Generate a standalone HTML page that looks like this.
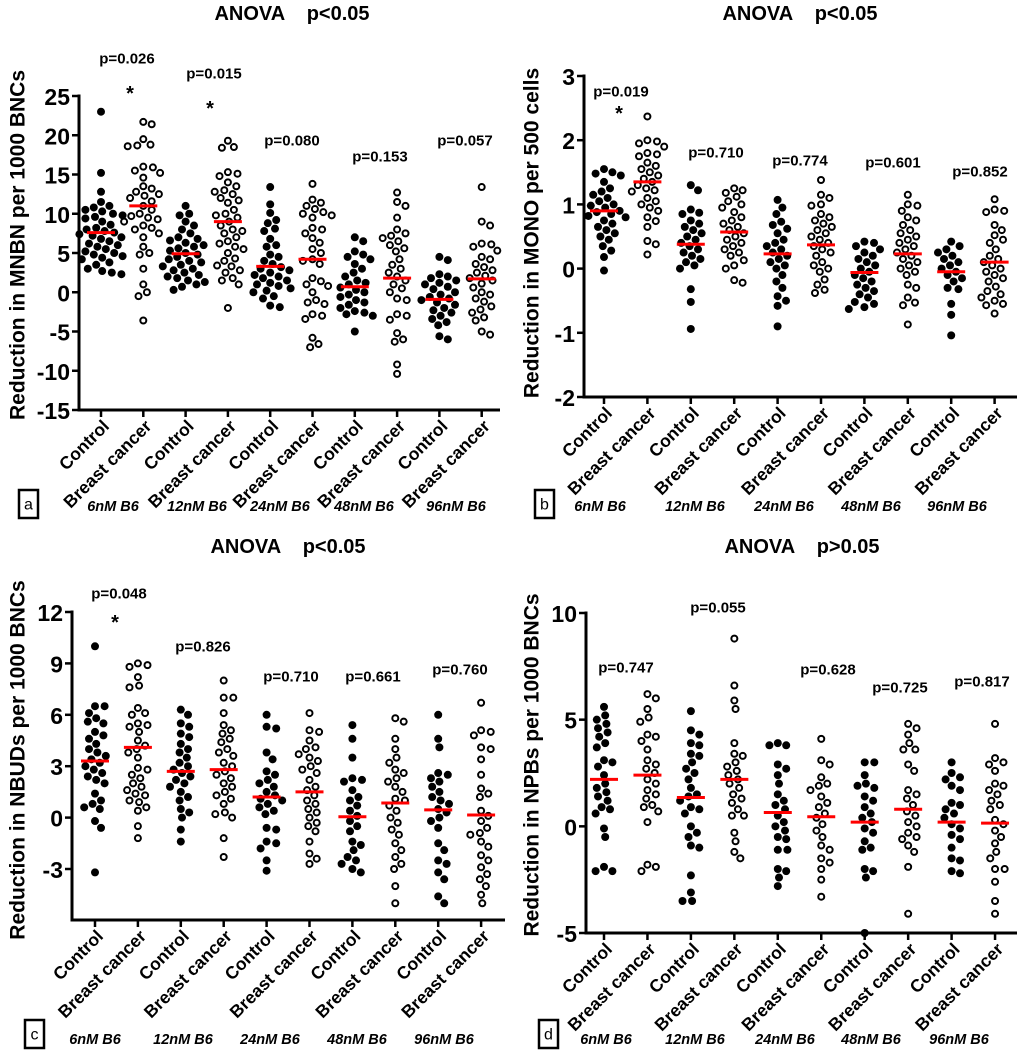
<!DOCTYPE html>
<html><head><meta charset="utf-8">
<style>
html,body{margin:0;padding:0;background:#fff;}
svg{display:block;font-family:"Liberation Sans",Arial,sans-serif;}
.pre{white-space:pre;}
</style></head>
<body>
<svg id="chart" width="1024" height="1064" viewBox="0 0 1024 1064"></svg>
<script>
// ---------- data ----------
const categories = ["Control","Breast cancer","Control","Breast cancer","Control","Breast cancer","Control","Breast cancer","Control","Breast cancer"];
const doseLabels = ["6nM B6","12nM B6","24nM B6","48nM B6","96nM B6"];

const mnbnValues = [
 [23,15.2,12.8,11.5,11,10.8,10.5,10.3,10,9.8,9.6,9.4,9,8.6,8.2,8,7.8,7.6,7.4,7.2,7,6.8,6.5,6.2,6,5.8,5.5,5.2,5,4.8,4.6,4.4,4.2,3.8,3.5,3,2.7,2.5,2.3],
 [21.7,21.4,19.5,18.8,18.7,18.6,16,15.9,15.5,15.2,14.6,13.5,13.2,12.8,12.5,12.3,12,11.6,11,10.5,10,9.7,9.5,9.3,9,8.5,8.2,8,7.5,7,5.8,5,4.8,3,1,0,-0.5,-3.6],
 [11,10,9.8,9,8.5,8,7.5,7,6.8,6.6,6.3,6,5.8,5.6,5.3,5,4.8,4.5,4.2,4,3.8,3.5,3.3,3,2.8,2.5,2.2,2,1.8,1.5,1.3,1,0.7,0.3],
 [19.3,18.5,18.4,15.3,15.1,14.8,14,13.5,13,12.8,12.5,12,11.7,11.4,10.5,10,9.8,9.5,9,8.5,8,7.8,7.5,7,6.5,6.2,5.8,5.5,5,4.3,4,3.4,3.3,2.8,2.5,1.8,1.5,1,-2],
 [13.4,11.2,10.1,9.2,8.8,8.1,7.8,6.8,6,5.8,4.8,4.5,4,3.6,3.2,3,2.8,2.5,2.2,2,1.8,1.5,1.2,1,0.8,0.5,0.2,0,-0.5,-0.8,-1.7,-1.9],
 [13.8,11.8,11.4,11,10.6,10.2,10,9.8,9.5,8.2,8,7.5,6.9,6.3,5.5,5,4.2,4,3.6,1.8,1.4,1,0.8,0,-1,-1.3,-1.5,-2.8,-3,-3.4,-5.8,-6.6,-7],
 [7,6.5,5.2,4.8,4.5,4.2,3.6,3,2.5,2,1.5,1.2,1,0.6,0.3,0,-0.3,-0.6,-1,-1.3,-1.6,-2,-2.4,-2.6,-2.8,-3,-5],
 [12.7,11.5,11,9.5,8,7.5,7.2,6.9,6.5,6,5.6,5.2,4.2,3.5,3,2.5,2,1.5,1,0.5,0,-0.8,-1,-2.8,-3,-3.5,-5.2,-6,-6.3,-9.2,-10.4],
 [4.5,4.1,2.3,2,1.8,1.5,1.2,1,0.7,0.4,0,-0.3,-0.6,-0.8,-1,-1.3,-1.6,-2,-2.3,-2.6,-3,-3.4,-3.8,-4.2,-5.6,-6],
 [13.4,9,8.5,6.2,6.1,5.8,5.3,4.5,4.2,3.6,3.2,2.8,2.5,2.1,1.8,1.5,1.1,0.6,0,-0.3,-0.8,-1.2,-1.8,-2.2,-2.6,-3.2,-3.6,-5,-5.4]
];
const mnbnMeans = [7.6,11,4.9,9,3.3,4.2,0.7,1.8,-0.9,1.7];
const mnbnTicks = [25,20,15,10,5,0,-5,-10,-15];
const mnbnP = ["p=0.026","p=0.015","p=0.080","p=0.153","p=0.057"];

const monoValues = [
 [1.55,1.5,1.48,1.45,1.35,1.25,1.2,1.15,1.1,1.05,1.0,0.98,0.95,0.9,0.88,0.85,0.82,0.8,0.75,0.7,0.65,0.6,0.55,0.5,0.45,0.35,0.28,0.18,-0.03],
 [2.37,2.0,1.98,1.95,1.9,1.8,1.78,1.75,1.65,1.6,1.55,1.5,1.45,1.4,1.35,1.3,1.25,1.22,1.2,1.1,1.05,1.0,0.95,0.9,0.8,0.74,0.65,0.43,0.38,0.22],
 [1.3,1.22,0.92,0.87,0.85,0.75,0.7,0.65,0.6,0.55,0.5,0.45,0.4,0.35,0.3,0.25,0.2,0.15,0.1,0.05,0,-0.32,-0.52,-0.94],
 [1.25,1.22,1.18,1.12,1.05,1.0,0.95,0.88,0.8,0.75,0.7,0.65,0.6,0.55,0.5,0.45,0.4,0.35,0.3,0.25,0.2,0.13,0.05,0,-0.18,-0.22],
 [1.07,0.95,0.85,0.73,0.68,0.62,0.55,0.45,0.4,0.35,0.3,0.25,0.2,0.15,0.1,0.05,0,-0.1,-0.2,-0.3,-0.43,-0.5,-0.58,-0.9],
 [1.38,1.15,1.1,1.0,0.98,0.85,0.8,0.75,0.7,0.65,0.6,0.55,0.5,0.45,0.4,0.35,0.3,0.25,0.2,0.1,0.05,0,-0.05,-0.17,-0.25,-0.33,-0.38],
 [0.42,0.4,0.35,0.3,0.25,0.2,0.15,0.1,0.05,0,-0.05,-0.1,-0.15,-0.2,-0.25,-0.3,-0.35,-0.4,-0.45,-0.52,-0.55,-0.6,-0.63],
 [1.15,1.0,0.98,0.9,0.8,0.75,0.68,0.6,0.55,0.5,0.45,0.4,0.35,0.3,0.25,0.2,0.15,0.1,0.05,0,-0.05,-0.1,-0.25,-0.3,-0.45,-0.53,-0.57,-0.87],
 [0.42,0.35,0.3,0.25,0.2,0.15,0.1,0.05,0,-0.05,-0.1,-0.15,-0.2,-0.3,-0.32,-0.55,-0.72,-1.04],
 [1.08,0.92,0.9,0.88,0.68,0.6,0.52,0.45,0.4,0.3,0.2,0.15,0.1,0.05,0,-0.05,-0.1,-0.15,-0.2,-0.28,-0.35,-0.4,-0.45,-0.5,-0.55,-0.57,-0.7]
];
const monoMeans = [0.9,1.35,0.38,0.57,0.23,0.37,-0.06,0.23,-0.05,0.1];
const monoTicks = [3,2,1,0,-1,-2];
const monoP = ["p=0.019","p=0.710","p=0.774","p=0.601","p=0.852"];

const nbudValues = [
 [10,6.5,6.5,6.1,5.8,5.6,5.5,5,4.8,4.6,4.3,4,3.8,3.6,3.4,3.2,3,2.8,2.6,2.4,2.2,2,1.4,1,0.8,0.6,0.5,-0.2,-0.6,-3.2],
 [9,8.9,8.8,8.2,7.7,7.6,6.4,6.1,6,5.5,5.4,5.3,5,4.5,4.2,4,3.8,3.5,2.9,2.8,2.5,2.3,2,1.8,1.6,1.4,1.3,1,0.9,0.6,0.4,-0.5,-1.2],
 [6.3,6,5.5,5.3,4.9,4.7,4.3,4,3.8,3.5,3.2,3,2.8,2.6,2.4,2.2,2,1.8,1.5,1.2,1,0.5,0.3,0,-0.7,-1.4],
 [8,7,7,6.1,5.4,5.1,4.9,4.6,4.4,4,3.8,3.6,3.2,3,2.7,2.5,2.3,2,1.8,1.5,1.3,1.1,0.8,0.3,0.2,0,-1.2,-2.3],
 [6,5.3,5.2,3.8,3.4,2.7,2.5,2.2,2,1.8,1.5,1.3,1.1,1,0.8,0.6,0.4,0.2,-0.6,-0.7,-1.4,-1.5,-1.8,-2.5,-3.1],
 [6.1,5.1,5,4.5,4.1,4,3.7,3.5,3.3,3,2.8,2.6,2.2,1.8,1.6,1.3,1,0.8,0.5,0.3,0,-0.3,-0.5,-0.8,-1.4,-2.1,-2.4,-2.7],
 [5.4,4.6,3.5,2.3,2.2,2.1,1.6,1.2,1,0.7,0.4,0.1,-0.2,-0.5,-0.8,-1.4,-1.6,-1.9,-2.3,-2.5,-2.7,-3,-3.2],
 [5.8,5.6,4.6,4,3.5,3.2,2.8,2.6,2.3,2.1,1.8,1.5,1.1,1,0.7,0.4,0,-0.3,-0.7,-1,-1.5,-1.9,-2.3,-2.7,-3,-4,-5],
 [6,4.6,4.1,2.6,2.5,2.3,2.1,1.8,1.5,1.2,1,0.8,0.5,0.3,0,-0.2,-0.6,-1.5,-1.9,-2.5,-2.7,-3.2,-3.6,-4.6,-5],
 [6.7,5.1,5,4.8,4.1,4,3.4,2.5,1.7,1.4,1.2,0.4,0.1,-0.2,-0.6,-0.9,-1,-1.4,-1.7,-2.2,-2.5,-2.9,-3.3,-3.6,-4,-4.5,-5]
];
const nbudMeans = [3.3,4.1,2.7,2.8,1.2,1.5,0.05,0.85,0.45,0.15];
const nbudTicks = [12,9,6,3,0,-3];
const nbudP = ["p=0.048","p=0.826","p=0.710","p=0.661","p=0.760"];

const npbValues = [
 [5.6,5.2,5,4.8,4.6,4.4,4.2,3.9,3.7,3.1,3,2.8,2.4,2,1.8,1.6,1.4,1.2,0.9,0.8,0.6,-0.1,-0.5,-1.9,-2.1,-2.1],
 [6.2,6,5.5,5.1,4.9,4.3,4.2,4,3.6,3.1,2.9,2.7,2.5,2.2,2,1.7,1.5,1.3,1,0.9,0.7,0.2,-1.8,-1.9,-2.1],
 [5.4,4.5,4.3,3.9,3.8,3.4,3.3,3,2.7,2.5,2.2,1.8,1.5,1.4,1.2,0.9,0.8,0.6,0,-0.3,-0.5,-0.9,-1,-2.3,-3.1,-3.5,-3.5],
 [8.8,6.6,5.9,5.5,3.9,3.4,3.3,3,2.8,2.6,2.4,2.2,2,1.8,1.5,1.3,1.1,0.8,0.5,0.5,-0.3,-0.7,-1.2,-1.5],
 [3.9,3.8,3.8,2.9,2.7,2.4,2,1.5,1.2,1,0.8,0.5,0.2,0,-0.2,-0.5,-0.6,-1.1,-1.1,-2,-2.1,-2.4,-2.8],
 [4.1,3.1,2.9,2.3,2,1.9,1.7,1.4,1.1,0.9,0.6,0.4,0.1,-0.2,-0.5,-0.9,-1.1,-1.5,-1.7,-2,-2.5,-3.3],
 [3,3,2.4,2,1.9,1.8,1.4,1.2,0.9,0.6,0.4,0.2,-0.1,-0.3,-0.7,-1,-1.1,-2,-2.1,-2.4,-5],
 [4.8,4.6,4.3,3.9,3.6,3.6,2.9,2.6,1.7,1.5,1.3,1,0.7,0.5,0.2,0,-0.3,-0.5,-0.6,-0.9,-1.2,-1.9,-4.1],
 [3,2.5,2.3,2.2,1.9,1.7,1.1,1,0.8,0.6,0.4,0.1,-0.1,-0.4,-0.6,-1,-1.5,-1.6,-2.1,-2.2],
 [4.8,3.2,3,2.9,2.6,2,1.9,1.7,1.5,1.2,1,0.8,0.3,0.1,-0.2,-0.5,-0.8,-1.2,-1.5,-2,-2,-2.6,-3.5,-4.1]
];
const npbMeans = [2.2,2.4,1.35,2.2,0.65,0.45,0.2,0.8,0.2,0.15];
const npbTicks = [10,5,0,-5];
const npbP = ["p=0.747","p=0.055","p=0.628","p=0.725","p=0.817"];

// ---------- drawing ----------
const NS = "http://www.w3.org/2000/svg";
const svg = document.getElementById("chart");
function mk(tag, attrs, parent, text){
  const e = document.createElementNS(NS, tag);
  for (const k in attrs) e.setAttribute(k, attrs[k]);
  if (text !== undefined) e.textContent = text;
  (parent||svg).appendChild(e);
  return e;
}

const panels = [
 {id:"a", values:mnbnValues, means:mnbnMeans, ticks:mnbnTicks, pvals:mnbnP,
  x0:79, xEnd:500, yTopV:25, yTop:96, yBotV:-15, yBot:410, axisY:410, cx0:101, dx:42.3,
  title:"ANOVA    p<0.05", titleX:292, titleY:14, ytitle:"Reduction in MNBN per 1000 BNCs", ytX:18, ytY:245,
  pPos:[[127,59],[214,74],[292,141],[380,157],[465,141]], stars:[[130,94],[210,109]],
  doseY:507, doseX:[113,197,280,364,456], box:[19,490]},
 {id:"b", values:monoValues, means:monoMeans, ticks:monoTicks, pvals:monoP,
  x0:584, xEnd:1017, yTopV:3, yTop:76, yBotV:-2, yBot:397, axisY:397, cx0:604, dx:43.4,
  title:"ANOVA    p<0.05", titleX:800, titleY:14, ytitle:"Reduction in MONO per 500 cells", ytX:532, ytY:233,
  pPos:[[621,92],[716,153],[800,161],[893,163],[980,172]], stars:[[619,114]],
  doseY:507, doseX:[600,695,784,871,957], box:[535,490]},
 {id:"c", values:nbudValues, means:nbudMeans, ticks:nbudTicks, pvals:nbudP,
  x0:72, xEnd:505, yTopV:12, yTop:612, yBotV:-3, yBot:869, axisY:920, cx0:95, dx:42.9,
  title:"ANOVA    p<0.05", titleX:288, titleY:547, ytitle:"Reduction in NBUDs per 1000 BNCs", ytX:18, ytY:760,
  pPos:[[119,594],[203,647],[291,677],[373,677],[460,670]], stars:[[115,623]],
  doseY:1040, doseX:[95,183,270,357,444], box:[25,1020]},
 {id:"d", values:npbValues, means:npbMeans, ticks:npbTicks, pvals:npbP,
  x0:586, xEnd:1017, yTopV:10, yTop:613, yBotV:-5, yBot:933, axisY:933, cx0:604, dx:43.45,
  title:"ANOVA    p>0.05", titleX:802, titleY:547, ytitle:"Reduction in NPBs per 1000 BNCs", ytX:532, ytY:765,
  pPos:[[626,668],[718,608],[828,670],[900,688],[982,682]], stars:[],
  doseY:1040, doseX:[606,695,785,871,959], box:[539,1020]}
];

panels.forEach(p => {
  const g = mk("g", {}, svg);
  
  
  const yScale = v => p.yTop + (p.yTopV - v) * (p.yBot - p.yTop) / (p.yTopV - p.yBotV);
  const xScale = i => p.cx0 + i * p.dx;

  const t = mk("text", {x:p.titleX, y:p.titleY, "text-anchor":"middle", "dominant-baseline":"central", "font-size":"20", "font-weight":"bold", "class":"pre"}, g, p.title);
  
  

  const yt = mk("text", {x:0, y:0, transform:`translate(${p.ytX},${p.ytY}) rotate(-90)`, "text-anchor":"middle", "dominant-baseline":"central", "font-size":"21", "font-weight":"bold"}, g, p.ytitle);
  
  

  const ya = mk("line", {x1:p.x0, y1:p.yTop-1.5, x2:p.x0, y2:p.axisY+1.5, stroke:"#000", "stroke-width":3}, g);
  
  
  const xa = mk("line", {x1:p.x0, y1:p.axisY, x2:p.xEnd, y2:p.axisY, stroke:"#000", "stroke-width":3}, g);
  
  

  p.ticks.forEach(v => {
    const y = yScale(v);
    const tk = mk("line", {x1:p.x0-7, y1:y, x2:p.x0, y2:y, stroke:"#000", "stroke-width":2.5}, g);
    
    
    const tl = mk("text", {x:p.x0-9, y:y+1, "text-anchor":"end", "dominant-baseline":"central", "font-size":"23", "font-weight":"bold"}, g, String(v));
    
    
  });

  categories.forEach((c, i) => {
    const x = xScale(i);
    const tk = mk("line", {x1:x, y1:p.axisY, x2:x, y2:p.axisY+7, stroke:"#000", "stroke-width":2.5}, g);
    
    
    const tl = mk("text", {x:0, y:0, transform:`translate(${x+5},${p.axisY+13}) rotate(-45)`, "text-anchor":"end", "dominant-baseline":"central", "font-size":"17.5", "font-weight":"bold"}, g, c);
    
    
  });

  doseLabels.forEach((d, i) => {
    const dl = mk("text", {x:p.doseX[i], y:p.doseY, "text-anchor":"middle", "dominant-baseline":"central", "font-size":"14.5", "font-weight":"bold", "font-style":"italic"}, g, d);
    
    
  });

  const bx = mk("rect", {x:p.box[0], y:p.box[1], width:19, height:28, fill:"#fff", stroke:"#000", "stroke-width":2.5}, g);
  
  
  const bl = mk("text", {x:p.box[0]+9.5, y:p.box[1]+15, "text-anchor":"middle", "dominant-baseline":"central", "font-size":"16"}, g, p.id);
  
  

  p.pvals.forEach((s, i) => {
    const pl = mk("text", {x:p.pPos[i][0], y:p.pPos[i][1], "text-anchor":"middle", "dominant-baseline":"central", "font-size":"15", "font-weight":"bold"}, g, s);
    
    
  });
  p.stars.forEach(s => {
    const st = mk("text", {x:s[0], y:s[1], "text-anchor":"middle", "dominant-baseline":"central", "font-size":"20", "font-weight":"bold"}, g, "*");
    
    
  });

  const R = 4, D = 8.6;
  p.values.forEach((arr, gi) => {
    const cx = xScale(gi);
    const filled = gi % 2 === 0;
    const placed = [];
    const sorted = arr.slice().sort((a,b)=>b-a);
    sorted.forEach(v => {
      const y = yScale(v);
      let off = 0;
      for (let k = 0; k < 80; k++) {
        const cand = k === 0 ? 0 : (k % 2 ? 1 : -1) * Math.ceil(k/2) * 1.2;
        if (placed.every(q => (q[0]-cand)**2 + (q[1]-y)**2 >= D*D)) { off = cand; break; }
      }
      placed.push([off, y]);
      const c = mk("circle", {cx:cx+off, cy:y, r: filled ? R : R-1, fill: filled ? "#000" : "#fff", stroke:"#000", "stroke-width": filled ? 0 : 2}, g);
      
      
    });
    const my = yScale(p.means[gi]);
    const ml = mk("line", {x1:cx-14, y1:my, x2:cx+14, y2:my, stroke:"#ff0000", "stroke-width":3}, g);
    
    
  });
});
</script>
</body></html>
